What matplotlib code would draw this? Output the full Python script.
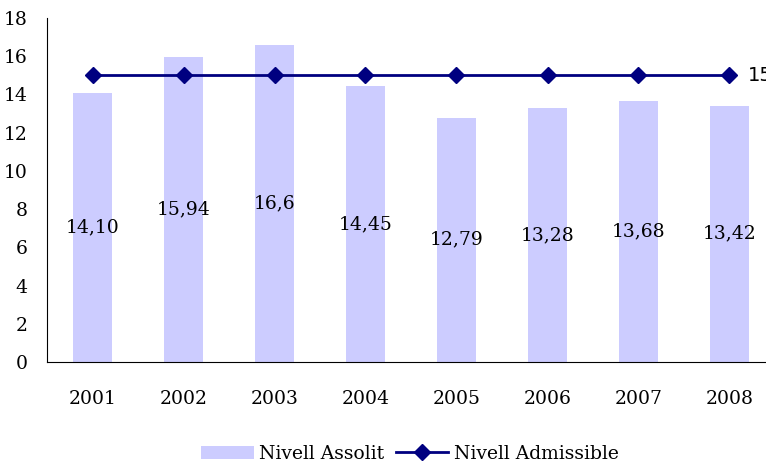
import numpy as np
import matplotlib.pyplot as plt

years = ['2001', '2002', '2003', '2004', '2005', '2006', '2007', '2008']
assolit = [14.10, 15.94, 16.6, 14.45, 12.79, 13.28, 13.68, 13.42]
labels = ['14,10', '15,94', '16,6', '14,45', '12,79', '13,28', '13,68', '13,42']
admissible = [15, 15, 15, 15, 15, 15, 15, 15]

plt.rcParams['font.family'] = ['DejaVu Serif']

fig = plt.figure(figsize=(7.66, 4.68), dpi=100)
# axes run past the right edge, as in the original
ax = fig.add_axes([47 / 766, 1 - 362 / 468, 728 / 766, 344 / 468])

x = np.arange(len(years))
bars = ax.bar(x, assolit, width=0.42, color='#ccccff', label='Nivell Assolit', zorder=1)
line, = ax.plot(x, admissible, color='#000080', lw=2, marker='D', ms=8,
                label='Nivell Admissible', zorder=3)

for xi, v, t in zip(x, assolit, labels):
    ax.text(xi, v / 2, t, ha='center', va='center', fontsize=13.5)
ax.text(x[-1] + 0.2, admissible[-1], '15', family='DejaVu Sans',
        ha='left', va='center', fontsize=14)

ax.set_xlim(-0.5, 7.5)
ax.set_ylim(0, 18)
ax.set_yticks(range(0, 19, 2))
ax.set_xticks(x)
ax.set_xticklabels(years)
ax.tick_params(axis='both', length=0, labelsize=13.5)
ax.tick_params(axis='x', pad=20)
ax.tick_params(axis='y', pad=14)
for s in ['top', 'right']:
    ax.spines[s].set_visible(False)

fig.legend([bars, line], ['Nivell Assolit', 'Nivell Admissible'],
           loc='lower center', bbox_to_anchor=(0.535, -0.025), ncol=2,
           frameon=False, fontsize=13.5, handlelength=2.8, columnspacing=0.6,
           handletextpad=0.3)

fig.savefig('out.png', dpi=100)
